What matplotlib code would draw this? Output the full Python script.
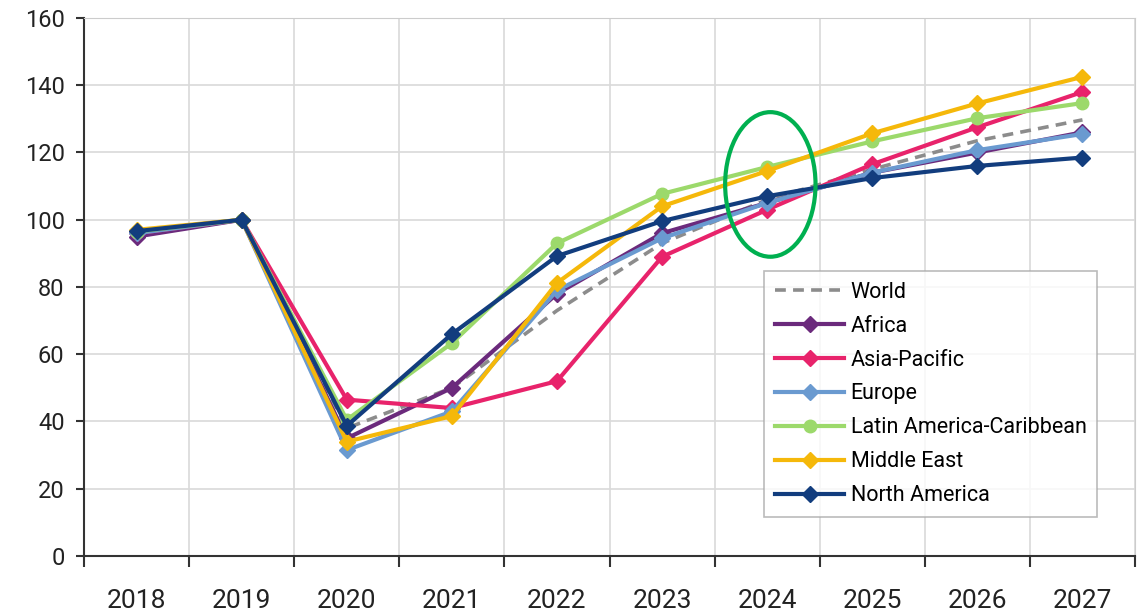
import matplotlib.pyplot as plt
from matplotlib.patches import Ellipse

# Passenger traffic index by region, 2019 = 100
years = ["2018", "2019", "2020", "2021", "2022", "2023", "2024", "2025", "2026", "2027"]

world = [95.5, 100, 38, 50, 73, 93, 106, 115, 123.5, 129.7]
africa = [95, 100, 35, 50, 78, 96, 105, 114, 120, 126]
asia_pacific = [96, 100, 46.5, 44, 52, 89, 103, 116.5, 127.5, 138]
europe = [96, 100, 31.5, 43, 79, 94.5, 105, 114, 120.7, 125.5]
latin_america = [96.5, 100, 40.5, 63.3, 93, 107.7, 115.7, 123.3, 130.2, 134.7]
middle_east = [97, 100, 34, 41.6, 81.2, 104, 114.5, 125.7, 134.6, 142.5]
north_america = [96.6, 100, 38.7, 66, 89.2, 99.6, 107, 112.4, 116, 118.5]

series = [
    ("Africa", africa, "#6b2a7c", "D"),
    ("Asia-Pacific", asia_pacific, "#e8236b", "D"),
    ("Europe", europe, "#6a9ad0", "D"),
    ("Latin America-Caribbean", latin_america, "#9cd96b", "o"),
    ("Middle East", middle_east, "#f5b80a", "D"),
    ("North America", north_america, "#123d7e", "D"),
]

plt.rcParams['font.family'] = ['Roboto', 'DejaVu Sans']

fig = plt.figure(figsize=(11.48, 6.12), dpi=100)
ax = fig.add_axes([0.0732, 0.0915, 0.9155, 0.8791])

x = list(range(len(years)))
ax.plot(x, world, color="#8c8c8c", lw=2.6, ls=(0, (3, 2)), label="World", zorder=3)
for name, vals, col, mk in series:
    ax.plot(x, vals, color=col, lw=3, marker=mk, markersize=8 if mk == "D" else 9,
            label=name, zorder=3)

ax.set_xlim(-0.5, len(years) - 0.5)
ax.set_ylim(0, 160)
ax.set_yticks(range(0, 161, 20))
ax.set_xticks(x)
ax.set_xticklabels(years, fontsize=19, color="#222222")
ax.set_xticks([i - 0.5 for i in range(len(years) + 1)], minor=True)
ax.tick_params(axis="x", which="major", length=0, pad=24)
ax.tick_params(axis="x", which="minor", length=8, width=1.5, color="#333333", direction="out")
ax.tick_params(axis="y", labelsize=17, length=6, width=1.5, color="#333333",
               labelcolor="#222222", pad=8)

ax.grid(axis="y", color="#d9d9d9", lw=1.2)
ax.grid(axis="x", which="minor", color="#d9d9d9", lw=1.2)
ax.set_axisbelow(True)
for s in ["top", "right"]:
    ax.spines[s].set_color("#cccccc")
for s in ["left", "bottom"]:
    ax.spines[s].set_color("#333333")
    ax.spines[s].set_linewidth(1.5)

leg = ax.legend(loc="lower right", bbox_to_anchor=(0.964, 0.0725), fontsize=15.5, frameon=True,
                fancybox=False, edgecolor="#aaaaaa", handlelength=3.2, handletextpad=0.3,
                labelspacing=0.6, borderpad=0.5, borderaxespad=0)
leg.get_frame().set_linewidth(1.2)

# highlight around 2024
ax.add_patch(Ellipse((6.03, 110.5), 0.86, 43, fill=False, edgecolor="#00b050", lw=3, zorder=4))

fig.savefig("out.png", dpi=100)
